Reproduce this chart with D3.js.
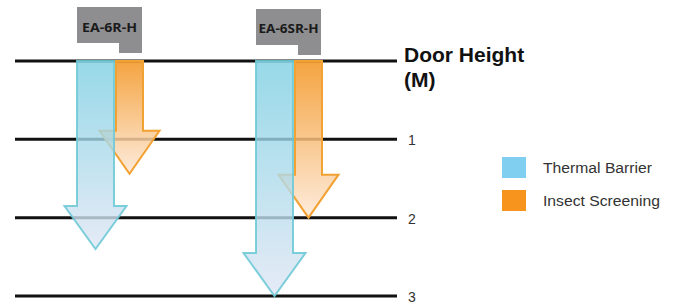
<!DOCTYPE html>
<html>
<head>
<meta charset="utf-8">
<script src="https://cdn.jsdelivr.net/npm/d3@7"></script>
<style>
  body { margin: 0; background: #fff; }
  svg { display: block; font-family: "Liberation Sans", Arial, sans-serif; }
</style>
</head>
<body>
<svg id="chart"></svg>
<script>
// Data
const products = ['EA-6R-H', 'EA-6SR-H'];
const thermalBarrier = [2.4, 3.0];
const insectScreening = [1.44, 2.0];
const heightTicks = [0, 1, 2, 3];
const seriesNames = ['Thermal Barrier', 'Insect Screening'];

const width = 673;
const height = 304;

const svg = d3.select('#chart')
  .attr('width', width)
  .attr('height', height);

// scales
const y = d3.scaleLinear().domain([0, 3]).range([61, 296]);
const x = d3.scalePoint().domain(products).range([96, 275]);

const defs = svg.append('defs');
function grad(id, top, bottom) {
  const g = defs.append('linearGradient')
    .attr('id', id)
    .attr('x1', 0).attr('y1', 0).attr('x2', 0).attr('y2', 1);
  g.append('stop').attr('offset', '0%').attr('stop-color', top);
  g.append('stop').attr('offset', '100%').attr('stop-color', bottom);
}
grad('gBlue', '#7dcfe2', '#dfe6f4');
grad('gOrange', '#f3941f', '#fde8d6');

// Height lines
svg.append('g')
  .selectAll('line')
  .data(heightTicks)
  .join('line')
  .attr('x1', 15)
  .attr('x2', 397)
  .attr('y1', d => y(d))
  .attr('y2', d => y(d))
  .attr('stroke', '#111')
  .attr('stroke-width', 3);

// tick labels
svg.append('g')
  .selectAll('text')
  .data(heightTicks.filter(d => d > 0))
  .join('text')
  .attr('x', 408)
  .attr('y', d => y(d) + 6)
  .attr('font-size', 14)
  .attr('fill', '#333')
  .text(d => d);

svg.append('text')
  .attr('x', 404)
  .attr('y', 62)
  .attr('font-size', 21)
  .attr('font-weight', 'bold')
  .attr('fill', '#111')
  .text('Door Height');
svg.append('text')
  .attr('x', 404)
  .attr('y', 87)
  .attr('font-size', 21)
  .attr('font-weight', 'bold')
  .attr('fill', '#111')
  .text('(M)');

// arrow path: shaft from x0..x1, head half-width hw, tip at value
function arrow(x0, x1, hw, val) {
  const tipY = y(val);
  const baseY = tipY - 43;
  const cx = (x0 + x1) / 2;
  const p = d3.path();
  p.moveTo(x0, y(0));
  p.lineTo(x1, y(0));
  p.lineTo(x1, baseY);
  p.lineTo(cx + hw, baseY);
  p.lineTo(cx, tipY);
  p.lineTo(cx - hw, baseY);
  p.lineTo(x0, baseY);
  p.closePath();
  return p.toString();
}

// insect screening arrows (under)
svg.append('g')
  .selectAll('path')
  .data(products)
  .join('path')
  .attr('d', (d, i) => arrow(x(d) + 20, x(d) + 47, 30, insectScreening[i]))
  .attr('fill', 'url(#gOrange)')
  .attr('fill-opacity', 0.85)
  .attr('stroke', '#f2a133')
  .attr('stroke-width', 2);

// thermal barrier arrows
svg.append('g')
  .selectAll('path')
  .data(products)
  .join('path')
  .attr('d', (d, i) => arrow(x(d) - 19, x(d) + 18, 31, thermalBarrier[i]))
  .attr('fill', 'url(#gBlue)')
  .attr('fill-opacity', 0.8)
  .attr('stroke', '#6fcad6')
  .attr('stroke-width', 2)
  .attr('stroke-opacity', 0.9);

// product tags
const tags = svg.append('g')
  .selectAll('g')
  .data(products)
  .join('g');

tags.append('path')
  .attr('d', (d, i) => {
    const l = x(d) - 19, r = x(d) + 46;
    const t = 7 + i * 2, b = 43 + i * 2, tb = 53 + i * 2;
    const n = r - 23;
    return `M${l},${t}H${r}V${tb}H${n}V${b}H${l}Z`;
  })
  .attr('fill', '#8e8e90');

tags.append('text')
  .attr('x', d => x(d) + 13.5)
  .attr('y', (d, i) => 32 + i)
  .attr('text-anchor', 'middle')
  .attr('font-family', '"Open Sans", sans-serif')
  .attr('font-size', 12.5)
  .attr('font-weight', 'bold')
  .attr('fill', '#1a1a1a')
  .attr('textLength', (d, i) => [55, 60][i])
  .attr('lengthAdjust', 'spacingAndGlyphs')
  .text(d => d);

// Legend
const legendColors = ['#80cff0', '#f7941d'];
const legend = svg.append('g')
  .selectAll('g')
  .data(seriesNames)
  .join('g')
  .attr('transform', (d, i) => `translate(502,${157 + i * 33})`);

legend.append('rect')
  .attr('width', 24)
  .attr('height', 21)
  .attr('fill', (d, i) => legendColors[i]);

legend.append('text')
  .attr('x', 41)
  .attr('y', 16)
  .attr('font-size', 14)
  .attr('fill', '#333')
  .attr('textLength', (d, i) => [109, 117][i])
  .attr('lengthAdjust', 'spacingAndGlyphs')
  .text(d => d);
</script>
</body>
</html>
